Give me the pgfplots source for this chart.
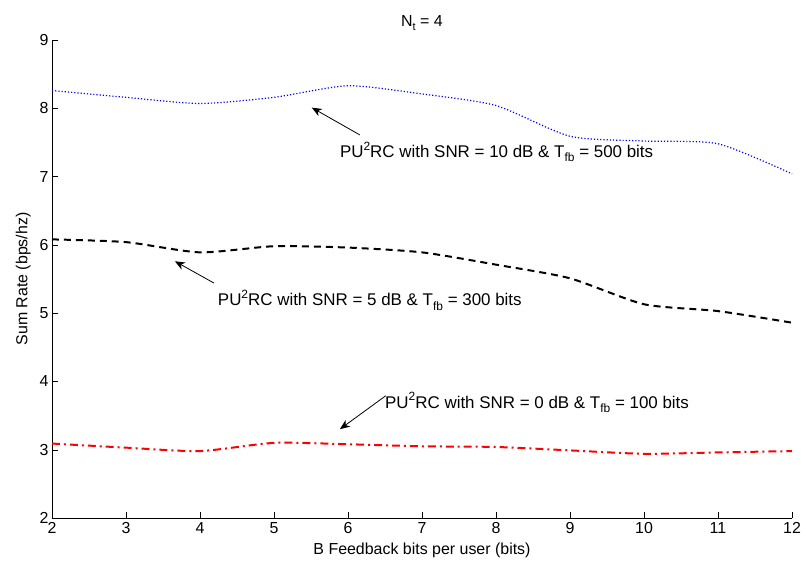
\documentclass[border=0pt]{standalone}
\usepackage{fontspec}
\setmainfont{Liberation Sans}
\usepackage{pgfplots}
\pgfplotsset{compat=1.18}
\usetikzlibrary{arrows.meta}
\newcommand{\sub}[2]{\raisebox{-0.5ex}{\fontsize{#1}{#1}\selectfont #2}}
\newcommand{\sups}[2]{\raisebox{0.8ex}{\fontsize{#1}{#1}\selectfont #2}}
\begin{document}
\begin{tikzpicture}[x=1bp,y=1bp]
\begin{axis}[
  scale only axis, width=740bp, height=478bp,
  xmin=2, xmax=12, ymin=2, ymax=9,
  xtick={2,...,12}, ytick={2,...,9},
  axis lines=left, axis line style={-},
  tick align=inside,
  tick style={black, thin},
  major tick length=6bp,
  /pgf/number format/assume math mode=true,
  ticklabel style={font=\fontsize{16}{18}\selectfont},
  xticklabel style={yshift=-1bp},
  label style={font=\fontsize{16}{18}\selectfont},
  title style={font=\fontsize{16}{18}\selectfont, yshift=0bp},
  title={N\sub{11}{t} = 4},
  xlabel={B Feedback bits per user (bits)},
  ylabel={Sum Rate (bps/hz)},
  xlabel style={yshift=-2bp},
  ylabel style={yshift=2bp},
  clip=false,
]
\addplot[blue, dotted, line width=1.2pt, smooth, tension=0.4] coordinates {
(2,8.26) (3,8.16) (4,8.07) (5,8.16) (6,8.33) (7,8.21) (8,8.04) (9,7.59) (10,7.52) (11,7.48) (12,7.04)};
\addplot[black, line width=2pt, smooth, tension=0.4, dash pattern=on 7pt off 5pt] coordinates {
(2,6.08) (3,6.04) (4,5.89) (5,5.98) (6,5.96) (7,5.89) (8,5.71) (9,5.51) (10,5.13) (11,5.03) (12,4.86)};
\addplot[red, line width=2pt, smooth, tension=0.4, dash pattern=on 8pt off 4pt on 2pt off 4pt] coordinates {
(2,3.09) (3,3.03) (4,2.98) (5,3.10) (6,3.08) (7,3.05) (8,3.04) (9,2.99) (10,2.94) (11,2.96) (12,2.98)};

\draw[-{Stealth[length=10bp,width=8bp,inset=3bp]}, line width=0.8bp] (axis cs:6.16,7.61) -- (axis cs:5.51,8.01);
\node[anchor=west, font=\fontsize{17}{19}\selectfont, inner sep=0pt] at (axis cs:5.89,7.36) {PU\sups{12}{2}RC with SNR = 10 dB \& T\sub{12}{fb} = 500 bits};
\draw[-{Stealth[length=10bp,width=8bp,inset=3bp]}, line width=0.8bp] (axis cs:4.19,5.44) -- (axis cs:3.66,5.76);
\node[anchor=west, font=\fontsize{17}{19}\selectfont, inner sep=0pt] at (axis cs:4.24,5.19) {PU\sups{12}{2}RC with SNR = 5 dB \& T\sub{12}{fb} = 300 bits};
\draw[-{Stealth[length=10bp,width=8bp,inset=3bp]}, line width=0.8bp] (axis cs:6.51,3.79) -- (axis cs:5.89,3.30);
\node[anchor=west, font=\fontsize{17}{19}\selectfont, inner sep=0pt] at (axis cs:6.50,3.69) {PU\sups{12}{2}RC with SNR = 0 dB \& T\sub{12}{fb} = 100 bits};
\end{axis}
\pgfresetboundingbox
\path (current axis.south west) ++(-52bp,-47bp) coordinate (bbA);
\path (current axis.north east) ++(15bp,40bp) coordinate (bbB);
\useasboundingbox (bbA) rectangle (bbB);
\end{tikzpicture}
\end{document}
